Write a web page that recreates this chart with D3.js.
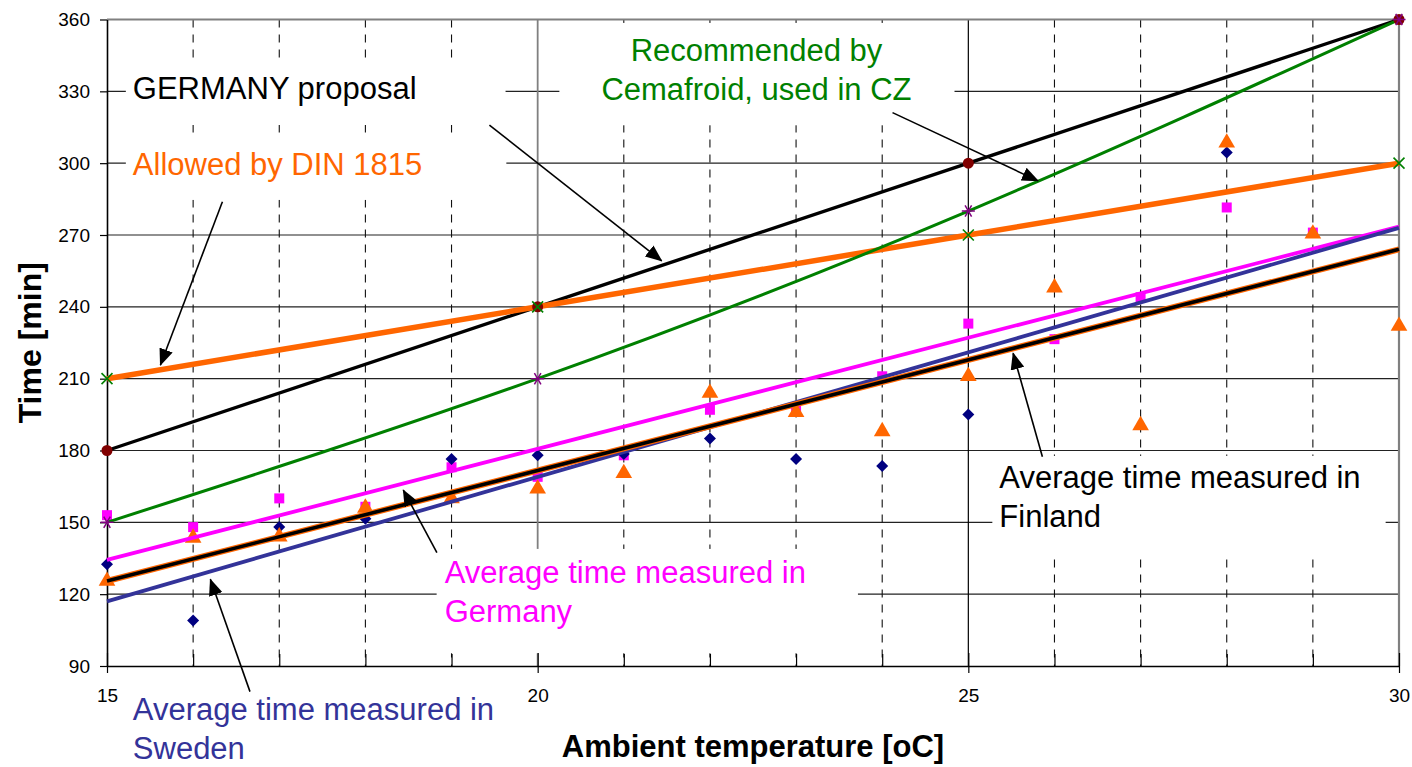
<!DOCTYPE html>
<html>
<head>
<meta charset="utf-8">
<script src="https://cdn.jsdelivr.net/npm/d3@7"></script>
<style>
body { margin: 0; background: #fff; }
text { font-family: "Liberation Sans", Arial, sans-serif; }
</style>
</head>
<body>
<script>
// measured points (one value per degree, null = not shown)
var temps = [15, 16, 17, 18, 19, 20, 21, 22, 23, 24, 25, 26, 27, 28, 29, 30];
var germanyMeasured = [153, 148, 160, 156.5, 173, 169, 178, 197, 198, 211, 233, 226.5, 244, 281.5, 271, null];
var swedenMeasured = [132.5, 109, 148, 151.5, 176.5, 178, 178.5, 185, 176.5, 173.5, 195, null, null, 304.5, null, null];
var finlandMeasured = [125.5, 143.5, 144, 156, 160, 164, 170.5, 204, 196, 188, 211, 248, 190.5, 308.5, 270.5, 232];

// recommended / proposed curves
var refTemps = [15, 20, 25, 30];
var germanyProposal = [180, 240, 300, 360];
var dinAllowed = [210, 240, 270, 300];
var cemafroid = [150, 210, 280, 360];

// trend lines of the measured data
var trendTemps = [15, 30];
var germanyTrend = [134.3, 273.5];
var swedenTrend = [117, 273];
var finlandTrend = [125.5, 264];

// ticks
var yTicks = [90, 120, 150, 180, 210, 240, 270, 300, 330, 360];
var xMajor = [15, 20, 25, 30];
var xMinor = [16, 17, 18, 19, 21, 22, 23, 24, 26, 27, 28, 29];

var width = 1412, height = 767;
var margin = {top: 19.5, right: 13, bottom: 101, left: 107};

var svg = d3.select("body").append("svg")
    .attr("width", width)
    .attr("height", height);

svg.append("rect").attr("width", width).attr("height", height).attr("fill", "#fff");

var x = d3.scaleLinear().domain([15, 30]).range([margin.left, width - margin.right]);
var y = d3.scaleLinear().domain([90, 360]).range([height - margin.bottom, margin.top]);

var orange = "#FF6600", magenta = "#FF00FF", green = "#008000",
    purple = "#800080", darkRed = "#800000", navy = "#000080", blue = "#333399";

// --- grid
var grid = svg.append("g");
grid.selectAll(".hgrid")
    .data(yTicks.filter(function (d) { return d > 90 && d < 360; }))
    .enter().append("line")
    .attr("x1", x(15)).attr("x2", x(30))
    .attr("y1", function (d) { return y(d); })
    .attr("y2", function (d) { return y(d); })
    .attr("stroke", "#222").attr("stroke-width", 1.2);

grid.selectAll(".vdash")
    .data(xMinor)
    .enter().append("line")
    .attr("x1", function (d) { return x(d); })
    .attr("x2", function (d) { return x(d); })
    .attr("y1", y(360)).attr("y2", y(90))
    .attr("stroke", "#111").attr("stroke-width", 1.1)
    .attr("stroke-dasharray", "8,7");

grid.selectAll(".vmajor")
    .data(xMajor.filter(function (d) { return d > 15 && d < 30; }))
    .enter().append("line")
    .attr("x1", function (d) { return x(d); })
    .attr("x2", function (d) { return x(d); })
    .attr("y1", y(360)).attr("y2", y(90))
    .attr("stroke", function (d) { return d === 20 ? "#808080" : "#000"; })
    .attr("stroke-width", function (d) { return d === 20 ? 1.8 : 1.2; });

// plot border (top / right)
grid.append("line").attr("x1", x(15)).attr("x2", x(30)).attr("y1", y(360)).attr("y2", y(360))
    .attr("stroke", "#808080").attr("stroke-width", 2);
grid.append("line").attr("x1", x(30)).attr("x2", x(30)).attr("y1", y(360)).attr("y2", y(90))
    .attr("stroke", "#808080").attr("stroke-width", 2.2);

// --- annotation boxes (white text boxes that hide the grid)
var notes = [
    {lines: ["GERMANY proposal"], color: "#000", t: 15.3, v: 326.8, anchor: "start", pad: [7, 89, 9, 19],
        from: [19.44, 315.9], to: [21.44, 259.2]},
    {lines: ["Allowed by DIN 1815"], color: orange, t: 15.3, v: 295.1, anchor: "start", pad: [7, 84, 10, 18],
        from: [16.34, 283.9], to: [15.62, 215.7]},
    {lines: ["Recommended by", "Cemafroid, used in CZ"], color: green, t: 22.54, v: 342.7, anchor: "middle", pad: [42, 43, 10, 18],
        from: [24.12, 321.1], to: [25.81, 292.6]},
    {lines: ["Average time measured in", "Finland"], color: "#000", t: 25.36, v: 164.4, anchor: "start", pad: [7, 25, 4, 20],
        from: [25.86, 177.4], to: [25.52, 220.6]},
    {lines: ["Average time measured in", "Germany"], color: magenta, t: 18.92, v: 124.7, anchor: "start", pad: [8, 52, 6, 24],
        from: [18.83, 137.3], to: [18.44, 163.5]},
    {lines: ["Average time measured in", "Sweden"], color: blue, t: 15.3, v: 67.4, anchor: "start", pad: [7, 20, 4, 0],
        from: [16.66, 79.3], to: [16.2, 126.2]}
];

var noteLayer = svg.append("g");

// --- axes
var yAxis = d3.axisLeft(y).tickValues(yTicks).tickSize(7).tickSizeOuter(0).tickPadding(10);
var gy = svg.append("g")
    .attr("transform", "translate(" + x(15) + ",0)")
    .call(yAxis);
gy.select(".domain").attr("stroke", "#000").attr("stroke-width", 1.6);
gy.selectAll(".tick line").attr("stroke", "#000").attr("stroke-width", 1.2);
gy.selectAll(".tick text").style("font-size", "19px").attr("fill", "#000");

var xAxis = d3.axisBottom(x).tickValues(xMajor).tickSize(7).tickSizeOuter(0).tickPadding(16);
var gx = svg.append("g")
    .attr("transform", "translate(0," + y(90) + ")")
    .call(xAxis);
gx.select(".domain").attr("stroke", "#000").attr("stroke-width", 1.6);
gx.selectAll(".tick line").attr("y1", -13).attr("stroke", "#000").attr("stroke-width", 1.2);
gx.selectAll(".tick text").style("font-size", "19px").attr("fill", "#000");

var xMinorAxis = d3.axisBottom(x).tickValues(xMinor).tickSize(-12).tickSizeOuter(0).tickFormat("");
var gxm = svg.append("g")
    .attr("transform", "translate(0," + y(90) + ")")
    .call(xMinorAxis);
gxm.select(".domain").remove();
gxm.selectAll(".tick line").attr("stroke", "#000").attr("stroke-width", 1.2);

svg.append("text")
    .attr("x", (x(15) + x(30)) / 2)
    .attr("y", 757)
    .attr("text-anchor", "middle")
    .attr("font-size", 31)
    .attr("font-weight", "bold")
    .text("Ambient temperature [oC]");

svg.append("text")
    .attr("transform", "translate(41," + ((y(90) + y(360)) / 2) + ") rotate(-90)")
    .attr("text-anchor", "middle")
    .attr("font-size", 32)
    .attr("font-weight", "bold")
    .text("Time [min]");

// --- measured scatter
function pairs(xs, ys) {
    return xs.map(function (d, i) { return [d, ys[i]]; })
        .filter(function (d) { return d[1] != null; });
}

var plot = svg.append("g");

function scatter(values, shape, size, color, rot) {
    plot.append("g").selectAll("path")
        .data(pairs(temps, values))
        .enter().append("path")
        .attr("d", d3.symbol().type(shape).size(size))
        .attr("transform", function (d) {
            return "translate(" + x(d[0]) + "," + y(d[1]) + ")" + (rot ? " rotate(" + rot + ")" : "");
        })
        .attr("fill", color);
}

scatter(germanyMeasured, d3.symbolSquare, 100, magenta, 0);
scatter(swedenMeasured, d3.symbolSquare, 72, navy, 45);
scatter(finlandMeasured, d3.symbolTriangle, 120, orange, 0);

// --- trend lines
var line = d3.line()
    .x(function (d) { return x(d[0]); })
    .y(function (d) { return y(d[1]); });

var curve = d3.line()
    .x(function (d) { return x(d[0]); })
    .y(function (d) { return y(d[1]); })
    .curve(d3.curveNatural);

plot.append("path").datum(pairs(trendTemps, germanyTrend))
    .attr("d", line).attr("fill", "none").attr("stroke", magenta).attr("stroke-width", 3.8);
plot.append("path").datum(pairs(trendTemps, swedenTrend))
    .attr("d", line).attr("fill", "none").attr("stroke", blue).attr("stroke-width", 3.8);
plot.append("path").datum(pairs(trendTemps, finlandTrend))
    .attr("d", line).attr("fill", "none").attr("stroke", orange).attr("stroke-width", 6);
plot.append("path").datum(pairs(trendTemps, finlandTrend))
    .attr("d", line).attr("fill", "none").attr("stroke", "#000").attr("stroke-width", 3.6);

// --- reference curves
plot.append("path").datum(pairs(refTemps, germanyProposal))
    .attr("d", line).attr("fill", "none").attr("stroke", "#000").attr("stroke-width", 3.4);
plot.append("path").datum(pairs(refTemps, dinAllowed))
    .attr("d", line).attr("fill", "none").attr("stroke", orange).attr("stroke-width", 5.5);
plot.append("path").datum(pairs(refTemps, cemafroid))
    .attr("d", curve).attr("fill", "none").attr("stroke", green).attr("stroke-width", 3);

plot.append("g").selectAll("circle")
    .data(pairs(refTemps, germanyProposal))
    .enter().append("circle")
    .attr("cx", function (d) { return x(d[0]); })
    .attr("cy", function (d) { return y(d[1]); })
    .attr("r", 5.5)
    .attr("fill", darkRed);

var timesShape = d3.symbolTimes || d3.symbolCross;
var starShape = d3.symbolAsterisk || d3.symbolCross;

plot.append("g").selectAll("path")
    .data(pairs(refTemps, dinAllowed))
    .enter().append("path")
    .attr("d", d3.symbol().type(timesShape).size(80))
    .attr("transform", function (d) { return "translate(" + x(d[0]) + "," + y(d[1]) + ")"; })
    .attr("fill", "none").attr("stroke", green).attr("stroke-width", 1.6);

plot.append("g").selectAll("path")
    .data(pairs(refTemps, cemafroid))
    .enter().append("path")
    .attr("d", d3.symbol().type(starShape).size(120))
    .attr("transform", function (d) { return "translate(" + x(d[0]) + "," + y(d[1]) + ") rotate(90)"; })
    .attr("fill", "none").attr("stroke", purple).attr("stroke-width", 1.5);

// --- annotations: white boxes, text, arrows
svg.append("defs").append("marker")
    .attr("id", "arrow")
    .attr("markerUnits", "userSpaceOnUse")
    .attr("viewBox", "0 0 17 14")
    .attr("refX", 16).attr("refY", 7)
    .attr("markerWidth", 17).attr("markerHeight", 14)
    .attr("orient", "auto")
    .append("path").attr("d", "M0,0 L17,7 L0,14 Z").attr("fill", "#000");

notes.forEach(function (n) {
    var g = noteLayer.append("g");
    var txt = g.append("text")
        .attr("x", x(n.t))
        .attr("y", y(n.v))
        .attr("text-anchor", n.anchor)
        .attr("font-size", 31)
        .attr("fill", n.color);
    n.lines.forEach(function (s, i) {
        txt.append("tspan")
            .attr("x", x(n.t))
            .attr("dy", i === 0 ? 0 : "1.27em")
            .text(s);
    });
    var bb = txt.node().getBBox();
    g.insert("rect", "text")
        .attr("x", bb.x - n.pad[0])
        .attr("y", bb.y - n.pad[2])
        .attr("width", bb.width + n.pad[0] + n.pad[1])
        .attr("height", bb.height + n.pad[2] + n.pad[3])
        .attr("fill", "#fff");
});

svg.append("g").selectAll("line")
    .data(notes)
    .enter().append("line")
    .attr("x1", function (d) { return x(d.from[0]); })
    .attr("y1", function (d) { return y(d.from[1]); })
    .attr("x2", function (d) { return x(d.to[0]); })
    .attr("y2", function (d) { return y(d.to[1]); })
    .attr("stroke", "#000")
    .attr("stroke-width", 1.6)
    .attr("marker-end", "url(#arrow)");
</script>
</body>
</html>
